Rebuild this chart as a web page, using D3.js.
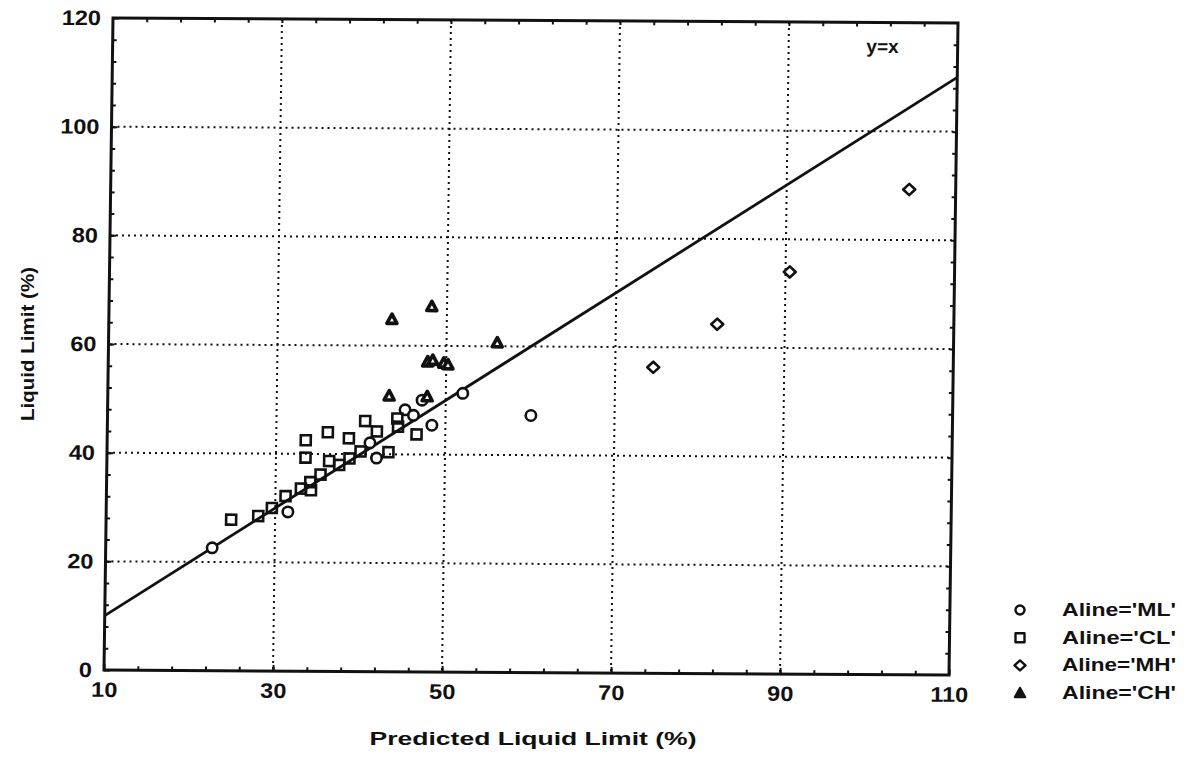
<!DOCTYPE html>
<html>
<head>
<meta charset="utf-8">
<script src="https://cdn.jsdelivr.net/npm/d3@7"></script>
<style>
  body { margin: 0; background: #fff; }
  svg text { font-family: "Liberation Sans", Arial, sans-serif; font-weight: bold; fill: #111; }
</style>
</head>
<body>
<svg id="chart" width="1192" height="761"></svg>
<script>
// Axis ticks
const xTicks = [10, 30, 50, 70, 90, 110];
const yTicks = [0, 20, 40, 60, 80, 100, 120];
const xGrid = [30, 50, 70, 90];
const yGrid = [20, 40, 60, 80, 100];

// [predicted LL, measured LL] per A-line class
const mlPoints = [
  [22.6, 22.6], [31.5, 29.3], [41.1, 42.1], [41.9, 39.3], [45.2, 48.2],
  [46.2, 47.2], [48.4, 45.4], [47.2, 50.0], [52.0, 51.3], [60.1, 47.3]
];
const clPoints = [
  [24.8, 27.8], [28.0, 28.5], [29.6, 30.0], [31.2, 32.2], [33.0, 33.6],
  [34.1, 34.8], [34.2, 33.3], [35.3, 36.2], [36.3, 38.7], [37.5, 38.0],
  [33.5, 39.3], [33.5, 42.5], [36.1, 44.0], [38.6, 42.9], [38.7, 39.2],
  [40.0, 40.5], [40.5, 46.1], [41.9, 44.2], [43.3, 40.4], [44.3, 46.6],
  [44.4, 45.1], [46.6, 43.7]
];
const mhPoints = [
  [74.5, 56.3], [82.0, 64.3], [90.5, 74.0], [104.5, 89.3]
];
const chPoints = [
  [43.5, 64.8], [48.2, 67.2], [56.0, 60.6], [47.8, 57.0], [48.4, 57.3],
  [49.7, 56.8], [50.2, 56.5], [43.3, 50.7], [47.8, 50.6]
];
const legendLabels = ["Aline='ML'", "Aline='CL'", "Aline='MH'", "Aline='CH'"];
const identityLine = [10, 110];

const W = 845, H = 652;
const svg = d3.select("#chart");

// plot frame, slightly skewed like the printed page
const g = svg.append("g")
  .attr("transform", "matrix(1,0.0059,-0.0138,1,113,18)");

const x = d3.scaleLinear().domain([10, 110]).range([0, W]);
const y = d3.scaleLinear().domain([0, 120]).range([H, 0]);

// dotted grid
g.append("g").selectAll("line.gx").data(xGrid).join("line")
  .attr("x1", d => x(d)).attr("x2", d => x(d)).attr("y1", 0).attr("y2", H)
  .attr("stroke", "#111").attr("stroke-width", 2).attr("stroke-dasharray", "2,4");
g.append("g").selectAll("line.gy").data(yGrid).join("line")
  .attr("y1", d => y(d)).attr("y2", d => y(d)).attr("x1", 0).attr("x2", W)
  .attr("stroke", "#111").attr("stroke-width", 2).attr("stroke-dasharray", "2,4");

// minor ticks every 4 units, inward on all four sides
const xMinor = d3.range(14, 110, 4);
const yMinor = d3.range(4, 120, 4);
function tickAxes(axisFn, scale, vals, size, tr) {
  const a = g.append("g").attr("transform", tr)
    .call(axisFn(scale).tickValues(vals).tickSizeInner(-size).tickSizeOuter(0).tickFormat(""));
  a.select(".domain").remove();
  a.selectAll("line").attr("stroke", "#111").attr("stroke-width", 2);
}
tickAxes(d3.axisBottom, x, xMinor, 4, `translate(0,${H})`);
tickAxes(d3.axisTop, x, xMinor, 4, "translate(0,0)");
tickAxes(d3.axisLeft, y, yMinor, 4, "translate(0,0)");
tickAxes(d3.axisRight, y, yMinor, 4, `translate(${W},0)`);

// labelled axes
const xAxis = g.append("g").attr("transform", `translate(0,${H})`)
  .call(d3.axisBottom(x).tickValues(xTicks).tickSizeInner(-6).tickSizeOuter(0).tickPadding(12));
const yAxis = g.append("g")
  .call(d3.axisLeft(y).tickValues(yTicks).tickSizeInner(-6).tickSizeOuter(0).tickPadding(12));
[xAxis, yAxis].forEach(a => {
  a.select(".domain").remove();
  a.selectAll("line").attr("stroke", "#111").attr("stroke-width", 2);
  a.selectAll("text").attr("font-size", 21);
  a.attr("font-family", null).attr("font-size", null);
});
xAxis.selectAll("text").attr("transform", "scale(1.12,1)");
yAxis.selectAll("text").attr("x", -12 / 1.12).attr("transform", "scale(1.12,1)");

// frame
g.append("rect").attr("x", 0).attr("y", 0).attr("width", W).attr("height", H)
  .attr("fill", "none").attr("stroke", "#111").attr("stroke-width", 3);

// y = x reference line
g.append("line")
  .attr("x1", x(identityLine[0])).attr("y1", y(identityLine[0]))
  .attr("x2", x(identityLine[1])).attr("y2", y(identityLine[1]))
  .attr("stroke", "#111").attr("stroke-width", 2.8);
g.append("text").attr("x", x(99.2)).attr("y", y(114.4)).attr("font-size", 19)
  .text("y=x");

// symbols
const sw = 2.6;
g.append("g").selectAll("circle").data(mlPoints).join("circle")
  .attr("cx", d => x(d[0])).attr("cy", d => y(d[1])).attr("r", 5.2)
  .attr("fill", "#fff").attr("stroke", "#111").attr("stroke-width", sw);
g.append("g").selectAll("rect").data(clPoints).join("rect")
  .attr("x", d => x(d[0]) - 5).attr("y", d => y(d[1]) - 5).attr("width", 10).attr("height", 10)
  .attr("fill", "none").attr("stroke", "#111").attr("stroke-width", sw);
const diamond = "M0,-5.6 L6,0 L0,5.6 L-6,0 Z";
g.append("g").selectAll("path").data(mhPoints).join("path")
  .attr("transform", d => `translate(${x(d[0])},${y(d[1])})`).attr("d", diamond)
  .attr("fill", "#fff").attr("stroke", "#111").attr("stroke-width", sw).attr("stroke-linejoin", "round");
const tri = "M0,-5.5 L5,3.8 L-5,3.8 Z";
g.append("g").selectAll("path").data(chPoints).join("path")
  .attr("transform", d => `translate(${x(d[0])},${y(d[1])})`).attr("d", tri)
  .attr("fill", "#fff").attr("stroke", "#111").attr("stroke-width", 3.6).attr("stroke-linejoin", "round");

// axis titles
svg.append("text").attr("x", 533).attr("y", 745).attr("text-anchor", "middle")
  .attr("font-size", 19).attr("textLength", 327).attr("lengthAdjust", "spacingAndGlyphs")
  .text("Predicted Liquid Limit (%)");
svg.append("text").attr("transform", "translate(34,344) rotate(-90)").attr("text-anchor", "middle")
  .attr("font-size", 19).attr("textLength", 154).attr("lengthAdjust", "spacingAndGlyphs")
  .text("Liquid Limit (%)");

// legend
const legendShapes = [
  s => s.append("circle").attr("r", 4.5),
  s => s.append("rect").attr("x", -4.5).attr("y", -4.5).attr("width", 9).attr("height", 9),
  s => s.append("path").attr("d", "M0,-5 L5.5,0 L0,5 L-5.5,0 Z"),
  s => s.append("path").attr("d", "M0,-5 L5,4 L-5,4 Z").attr("fill", "#111")
];
const legend = svg.append("g").attr("transform", "translate(1020,610)");
legendLabels.forEach((lab, i) => {
  const row = legend.append("g").attr("transform", `translate(0,${i * 27.7})`);
  const shp = legendShapes[i](row);
  if (i < 3) shp.attr("fill", "#fff");
  shp.attr("stroke", "#111").attr("stroke-width", 2.4).attr("stroke-linejoin", "round");
  row.append("text").attr("x", 42).attr("y", 6).attr("font-size", 18)
    .attr("textLength", 114).attr("lengthAdjust", "spacingAndGlyphs").text(lab);
});
</script>
</body>
</html>
